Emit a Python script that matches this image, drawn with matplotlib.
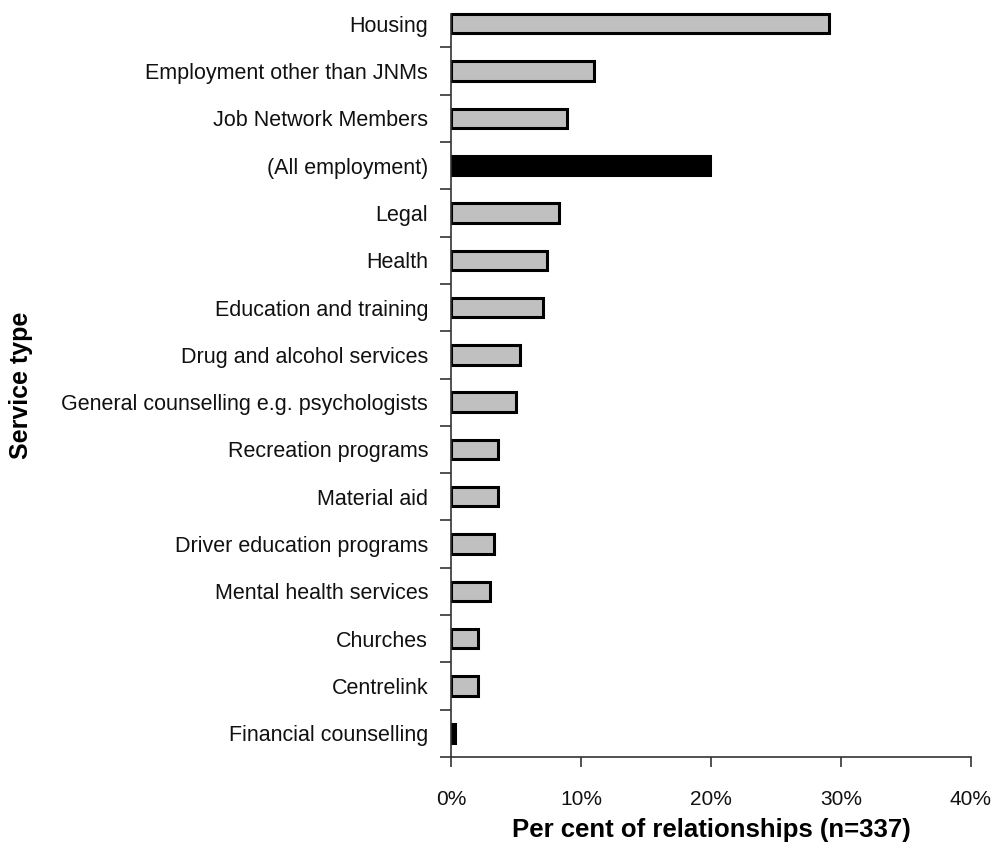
import matplotlib
matplotlib.use("Agg")
import matplotlib.pyplot as plt
import numpy as np

plt.rcParams['font.family'] = ['Liberation Sans', 'DejaVu Sans']

# Service types, top to bottom
categories = ['Housing', 'Employment other than JNMs', 'Job Network Members',
              '(All employment)', 'Legal', 'Health', 'Education and training',
              'Drug and alcohol services', 'General counselling e.g. psychologists',
              'Recreation programs', 'Material aid', 'Driver education programs',
              'Mental health services', 'Churches', 'Centrelink',
              'Financial counselling']
# per cent of relationships (n=337)
values = [29.1, 11.0, 8.9, 19.9, 8.3, 7.4, 7.1, 5.3, 5.0, 3.6, 3.6, 3.3, 3.0,
          2.1, 2.1, 0.3]
black_bars = ['(All employment)', 'Financial counselling']

fig = plt.figure(figsize=(9.93, 8.43), dpi=100)
ax = fig.add_axes([0.4542, 0.102, 0.5236, 0.898])

n = len(categories)
ypos = np.arange(n)[::-1]
colors = ['black' if c in black_bars else '#C0C0C0' for c in categories]
ax.barh(ypos, values, height=0.41, color=colors, edgecolor='black', linewidth=2.2)

ax.set_xlim(0, 40)
ax.set_ylim(-0.5, n - 0.5)

# category labels sit between the tick marks
ax.set_yticks(ypos)
ax.set_yticklabels(categories, fontsize=15.5, color='#111111')
ax.tick_params(axis='y', which='major', length=0, pad=16.5)
ax.set_yticks(np.arange(n) - 0.5, minor=True)
ax.tick_params(axis='y', which='minor', length=8, width=1.2, color='#333333', direction='out')

ax.set_xticks([0, 10, 20, 30, 40])
ax.set_xticklabels(['0%', '10%', '20%', '30%', '40%'], fontsize=15, color='#111111')
ax.tick_params(axis='x', length=7, width=1.2, color='#333333', direction='out', pad=17)

for s in ['top', 'right']:
    ax.spines[s].set_visible(False)
for s in ['left', 'bottom']:
    ax.spines[s].set_color('#333333')
    ax.spines[s].set_linewidth(1.2)
ax.spines['left'].set_bounds(-0.5, n - 0.8)

ax.set_xlabel('Per cent of relationships (n=337)', fontsize=18.5, fontweight='bold', labelpad=6)
fig.text(0.021, 0.543, 'Service type', rotation=90, fontsize=18, fontweight='bold',
         ha='center', va='center')

fig.savefig('out.png', dpi=100)
